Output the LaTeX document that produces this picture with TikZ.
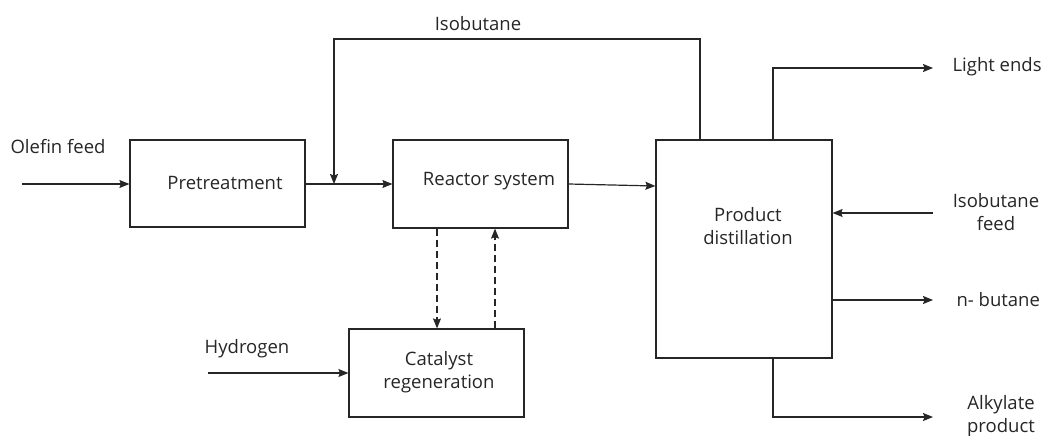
\documentclass[tikz,border=0pt]{standalone}
\usepackage{fontspec}
\setmainfont{Open Sans}
\usetikzlibrary{arrows.meta}
\begin{document}
\begin{tikzpicture}[x=1pt,y=-1pt,
  line width=1.2pt, draw={black!85},
  box/.style={draw={black!85}, line width=1.2pt, rectangle, inner sep=0pt},
  lbl/.style={font=\fontsize{18.5}{23}\selectfont, text=black!85, align=center, inner sep=0pt},
  flow/.style={-{Stealth[length=10pt,width=8pt,inset=1.5pt]}},
  dflow/.style={flow, dash pattern=on 7pt off 4pt}
]
\useasboundingbox (0,0) rectangle (1046,436);
% boxes
\node[box, minimum width=175pt, minimum height=87pt] (pre) at (217.5,183.5) {};
\node[lbl] (preT) at (225,183) {Pretreatment};
\node[box, minimum width=175pt, minimum height=88pt] (rea) at (480.5,184) {};
\node[lbl] (reaT) at (489,181) {Reactor system};
\node[box, minimum width=176pt, minimum height=218pt] (dis) at (744,249) {};
\node[lbl] (disT) at (748,226) {Product\\distillation};
\node[box, minimum width=175pt, minimum height=88pt] (cat) at (436.5,373) {};
\node[lbl] (catT) at (439,372) {Catalyst\\regeneration};
% labels
\node[lbl] (olef) at (58,147) {Olefin feed};
\node[lbl] (isob) at (478,24) {Isobutane};
\node[lbl] (hyd) at (247,349) {Hydrogen};
\node[lbl, anchor=west] (light) at (952,67) {Light ends};
\node[lbl] (ifeed) at (996,212) {Isobutane\\feed};
\node[lbl, anchor=west] (nbut) at (956,300) {n- butane};
\node[lbl] (alk) at (1001,416) {Alkylate\\product};
% free ends
\coordinate (olefS) at (22,184);
\coordinate (hydS) at (208,373);
\coordinate (lightE) at (933,68);
\coordinate (ifeedS) at (933,213);
\coordinate (nbutE) at (933,300);
\coordinate (alkE) at (933,417);
\coordinate (join) at (334,184);
% connectors
\draw[flow] (olefS) -- (pre.west |- olefS);
\draw[flow] (pre.east |- join) -- (rea.west |- join);
\draw[flow] (dis.north -| 700,0) -- (700,39) -- (334,39) -- (join);
\draw[flow] (rea.east |- 0,184) -- (dis.west |- 0,186);
\draw[flow] (dis.north -| 773,0) -- (773,68) -- (lightE);
\draw[flow] (ifeedS) -- (dis.east |- ifeedS);
\draw[flow] (dis.east |- nbutE) -- (nbutE);
\draw[flow] (dis.south -| 773,0) -- (773,417) -- (alkE);
\draw[flow] (hydS) -- (cat.west |- hydS);
\draw[dflow] (rea.south -| 437,0) -- (cat.north -| 437,0);
\draw[dflow] (cat.north -| 495,0) -- (rea.south -| 495,0);
\end{tikzpicture}
\end{document}
